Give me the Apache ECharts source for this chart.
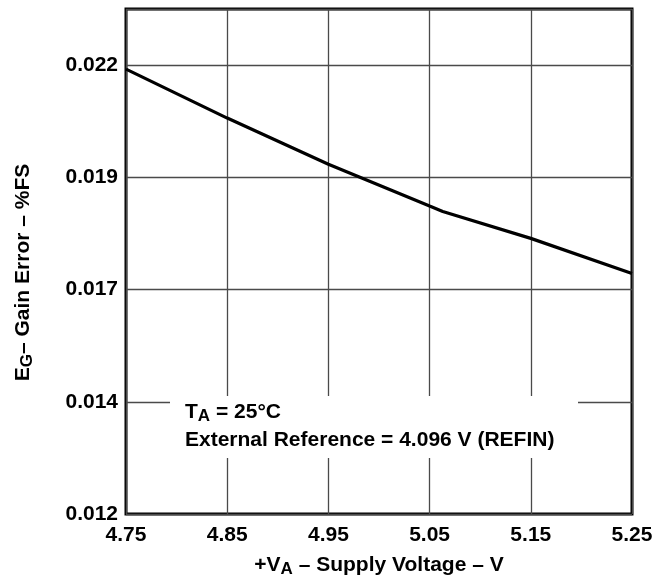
<!DOCTYPE html>
<html>
<head>
<meta charset="utf-8">
<script src="https://cdn.jsdelivr.net/npm/echarts@6/dist/echarts.min.js"></script>
<style>
  html, body { margin: 0; padding: 0; background: #ffffff; }
  #chart { width: 663px; height: 577px; }
</style>
</head>
<body>
<div id="chart"></div>
<script>
// Gain error versus analog supply voltage
const supplyVoltage = [4.75, 4.85, 4.95, 5.05, 5.063, 5.15, 5.25];
const gainError = [0.02191, 0.02082, 0.01979, 0.01886, 0.01874, 0.01814, 0.01736];

const xTickLabels = ['4.75', '4.85', '4.95', '5.05', '5.15', '5.25'];
const yTickLabels = ['0.012', '0.014', '0.017', '0.019', '0.022'];

const FONT = '"Liberation Sans", Arial, Helvetica, sans-serif';
// subscript fragment: smaller glyphs pushed toward the bottom of the line box
const subStyle = { fontSize: 17, fontWeight: 'bold', fontFamily: FONT, color: '#000', lineHeight: 12, verticalAlign: 'bottom' };
const mainStyle = { fontSize: 21, fontWeight: 'bold', fontFamily: FONT, color: '#000', lineHeight: 26 };

const chart = echarts.init(document.getElementById('chart'), null, { renderer: 'canvas' });

chart.setOption({
  animation: false,
  backgroundColor: '#ffffff',
  grid: {
    left: 126, right: 31, top: 9, bottom: 63,
    containLabel: false,
    outerBoundsMode: 'none',
    show: true, borderColor: '#000', borderWidth: 3, backgroundColor: 'transparent'
  },
  xAxis: {
    type: 'value',
    min: 4.75, max: 5.25, interval: 0.1,
    axisLine: { show: false },
    axisTick: { show: false },
    splitLine: { show: true, lineStyle: { color: '#4a4a4a', width: 1.3 } },
    axisLabel: {
      margin: 11,
      fontSize: 21, fontWeight: 'bold', fontFamily: FONT, color: '#000',
      formatter: (v, i) => xTickLabels[i] ?? ''
    },
    name: '+V{s|A} – Supply Voltage – V',
    nameLocation: 'middle',
    nameGap: 38,
    nameTextStyle: { ...mainStyle, rich: { s: subStyle } }
  },
  yAxis: {
    type: 'value',
    min: 0.012, max: 0.02325, interval: 0.0025,
    axisLine: { show: false },
    axisTick: { show: false },
    splitLine: { show: true, lineStyle: { color: '#4a4a4a', width: 1.3 } },
    axisLabel: {
      margin: 8,
      fontSize: 21, fontWeight: 'bold', fontFamily: FONT, color: '#000',
      formatter: (v, i) => yTickLabels[i] ?? ''
    },
    name: 'E{s|G}– Gain Error – %FS',
    nameLocation: 'middle',
    nameGap: 90,
    nameRotate: 90,
    nameTextStyle: { ...mainStyle, padding: [0, 22, 0, 0], rich: { s: subStyle } }
  },
  graphic: [
    {
      type: 'rect', z: 50,
      shape: { x: 170, y: 396, width: 408, height: 62 },
      style: { fill: '#ffffff' }
    },
    {
      type: 'text', z: 51, left: 185, top: 399,
      style: {
        text: 'T{s|A} = 25°C',
        font: 'bold 21px ' + FONT, fill: '#000',
        lineHeight: 26,
        rich: { s: subStyle }
      }
    },
    {
      type: 'text', z: 51, left: 185, top: 430,
      style: {
        text: 'External Reference = 4.096 V (REFIN)',
        font: 'bold 21px ' + FONT, fill: '#000'
      }
    }
  ],
  series: [{
    type: 'line',
    data: supplyVoltage.map((x, i) => [x, gainError[i]]),
    showSymbol: false,
    lineStyle: { color: '#000', width: 3.2 },
    z: 10
  }]
});
</script>
</body>
</html>
